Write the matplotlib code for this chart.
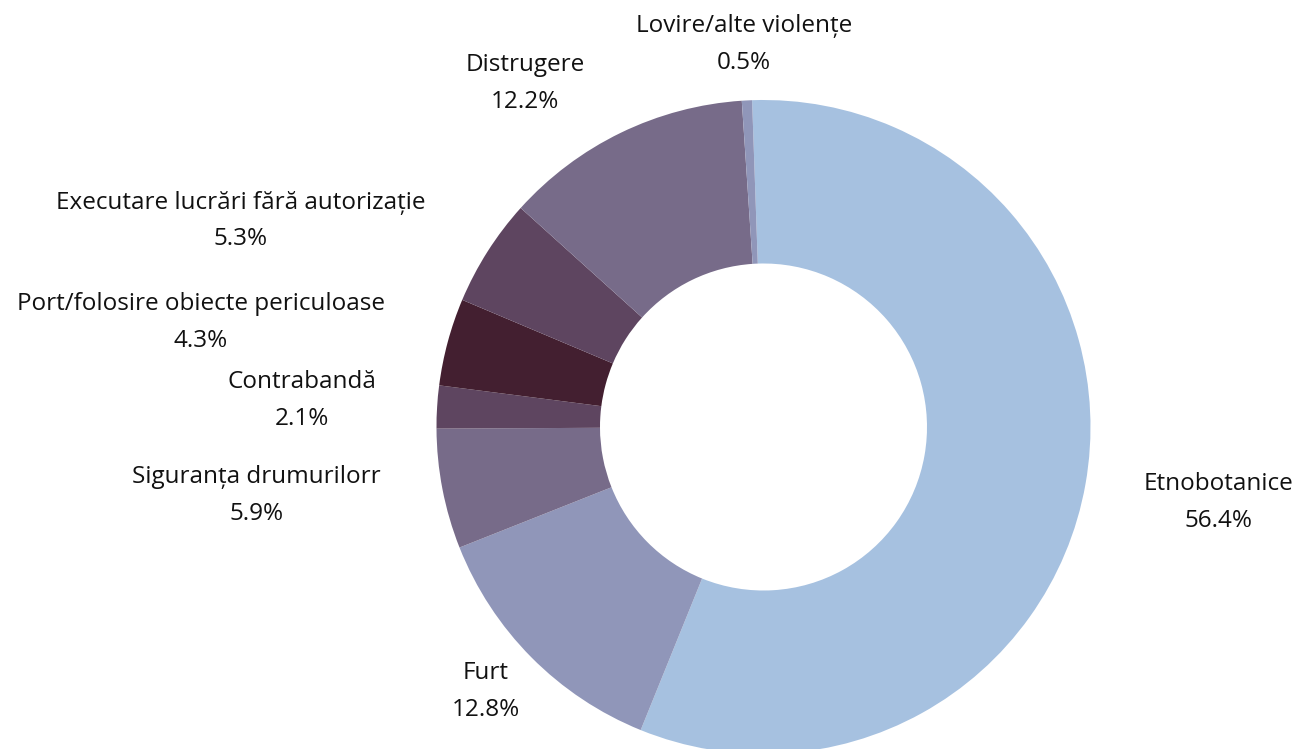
import matplotlib.pyplot as plt

# Data (percent of cases)
categories = ['Etnobotanice', 'Furt', 'Siguranța drumurilorr', 'Contrabandă',
              'Port/folosire obiecte periculoase', 'Executare lucrări fără autorizație',
              'Distrugere', 'Lovire/alte violențe']
values = [56.4, 12.8, 5.9, 2.1, 4.3, 5.3, 12.2, 0.5]

colors = ['#A6C1E0', '#9096B9', '#776B89', '#5E4560',
          '#431F30', '#5E4560', '#776B89', '#9096B9']

# label centres in data units (radius = 1)
label_pos = [(1.39, -0.23), (-0.85, -0.81), (-1.55, -0.21), (-1.41, 0.08),
             (-1.72, 0.32), (-1.60, 0.63), (-0.73, 1.05), (-0.06, 1.17)]

plt.rcParams['font.family'] = ['Open Sans', 'DejaVu Sans']

fig = plt.figure(figsize=(12.96, 7.49), dpi=100)
ax = fig.add_axes([0, 0, 1, 1])

ax.pie(values, colors=colors, startangle=92, counterclock=False,
       radius=1, wedgeprops=dict(width=0.5, linewidth=0))

for name, val, (x, y) in zip(categories, values, label_pos):
    ax.text(x, y, f'{name}\n{val:.1f}%', ha='center', va='center',
            fontsize=17.5, color='#111111', linespacing=1.72, fontweight='medium')

ax.set_xlim(-763.5 / 327, (1296 - 763.5) / 327)
ax.set_ylim((427 - 749) / 327, 427 / 327)
ax.set_aspect('equal')
ax.axis('off')

fig.savefig('out.png', dpi=100)
